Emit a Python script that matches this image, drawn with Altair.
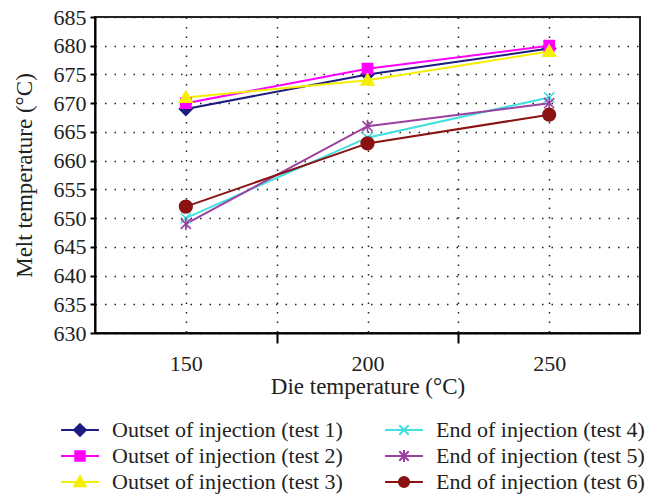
import altair as alt
import pandas as pd

die_temp = [150, 200, 250]
series_names = [
    "Outset of injection (test 1)",
    "Outset of injection (test 2)",
    "Outset of injection (test 3)",
    "End of injection (test 4)",
    "End of injection (test 5)",
    "End of injection (test 6)",
]
test1 = [669, 675, 679.5]
test2 = [670, 676, 680]
test3 = [671, 674, 679]
test4 = [650, 664, 671]
test5 = [649, 666, 670]
test6 = [652, 663, 668]
values = [test1, test2, test3, test4, test5, test6]
colors = ["#1c1c80", "#ff00ff", "#f5f000", "#40e0e0", "#9a40a0", "#8b1212"]
point_paths = [
    "M0,-1L1,0L0,1L-1,0Z",
    "M-0.8,-0.8H0.8V0.8H-0.8Z",
    "M0,-1L1,0.75L-1,0.75Z",
    "M-0.8,-0.8L0.8,0.8M-0.8,0.8L0.8,-0.8",
    "M-0.8,-0.8L0.8,0.8M-0.8,0.8L0.8,-0.8M0,-1V1",
    "circle",
]
legend_paths = [
    "M-1.6,0H1.6M0,-0.5L0.5,0L0,0.5L-0.5,0Z",
    "M-1.6,0H1.6M-0.4,-0.4H0.4V0.4H-0.4Z",
    "M-1.6,0H1.6M0,-0.48L0.48,0.35L-0.48,0.35Z",
    "M-1.6,0H1.6M-0.4,-0.4L0.4,0.4M-0.4,0.4L0.4,-0.4",
    "M-1.6,0H1.6M-0.4,-0.4L0.4,0.4M-0.4,0.4L0.4,-0.4M0,-0.5V0.5",
    "M-1.6,0H1.6M0.43,0A0.43,0.43 0 1,1 -0.43,0A0.43,0.43 0 1,1 0.43,0Z",
]

rows = []
for i, name in enumerate(series_names):
    for x, v in zip(die_temp, values[i]):
        rows.append({"series": name, "order": i, "die": x, "melt": v})
df = pd.DataFrame(rows)

serif = "Liberation Serif"

xenc = alt.X(
    "die:Q",
    scale=alt.Scale(domain=[125, 275], nice=False, zero=False),
    axis=alt.Axis(
        title="Die temperature (°C)",
        values=[150, 175, 200, 225, 250],
        labelExpr="datum.value % 50 == 0 ? datum.label : ''",
        tickOpacity={"condition": {"test": "datum.value % 50 == 25", "value": 1}, "value": 0},
        tickSize=10,
        tickWidth=2,
        tickColor="black",
        labelPadding=10,
        labelFont=serif,
        labelFontSize=22,
        labelColor="#222",
        titleFont=serif,
        titleFontSize=23,
        titleFontWeight="normal",
        titleColor="#222",
        titlePadding=1,
        domainColor="black",
        domainWidth=2,
        grid=True,
        gridColor="#222",
        gridDash=[1.5, 8],
        gridWidth=1.5,
    ),
)
yenc = alt.Y(
    "melt:Q",
    scale=alt.Scale(domain=[630, 685], nice=False, zero=False),
    axis=alt.Axis(
        title="Melt temperature (°C)",
        values=list(range(630, 686, 5)),
        tickSize=5,
        tickWidth=2,
        tickColor="black",
        labelPadding=4,
        labelFont=serif,
        labelFontSize=22,
        labelColor="#222",
        titleFont=serif,
        titleFontSize=23,
        titleFontWeight="normal",
        titleColor="#222",
        titlePadding=17,
        domainColor="black",
        domainWidth=2,
        grid=True,
        gridColor="#222",
        gridDash=[1.5, 8],
        gridWidth=1.5,
    ),
)

color_scale = alt.Scale(domain=series_names, range=colors)
shape_scale = alt.Scale(domain=series_names, range=legend_paths)

leg = alt.Legend(
    title=None,
    orient="none",
    legendX=-28,
    legendY=400,
    columns=2,
    columnPadding=38,
    rowPadding=2,
    symbolSize=560,
    symbolStrokeWidth=2,
    symbolOpacity=1,
    labelFont=serif,
    labelFontSize=22,
    labelColor="#222",
    labelOffset=19,
    labelLimit=400,
)

legend_layer = alt.Chart(df).transform_filter("false").mark_point(filled=True, opacity=1).encode(
    x=xenc,
    y=yenc,
    fill=alt.Fill("series:N", scale=color_scale, legend=leg),
    stroke=alt.Stroke("series:N", scale=color_scale, legend=leg),
    shape=alt.Shape("series:N", scale=shape_scale, legend=leg),
)

lines = alt.Chart(df).mark_line(strokeWidth=2).encode(
    x=xenc,
    y=yenc,
    stroke=alt.Stroke("series:N", scale=color_scale, legend=None),
    order="order:Q",
)

point_layers = []
for i, name in enumerate(series_names):
    point_layers.append(
        alt.Chart(df)
        .transform_filter(alt.datum.series == name)
        .mark_point(filled=True, size=160, strokeWidth=1.6, opacity=1, shape=point_paths[i])
        .encode(
            x=xenc,
            y=yenc,
            fill=alt.Fill("series:N", scale=color_scale, legend=None),
            stroke=alt.Stroke("series:N", scale=color_scale, legend=None),
        )
    )

chart = (
    alt.layer(legend_layer, lines, *point_layers)
    .properties(
        width=545,
        height=316,
        autosize=alt.AutoSizeParams(type="none"),
        padding={"left": 87, "top": 9, "right": 15, "bottom": 163},
        background="white",
    )
    .configure_view(stroke="#222", strokeWidth=2)
)

chart.save("out.html", embed_options={"renderer": "svg", "actions": False})
